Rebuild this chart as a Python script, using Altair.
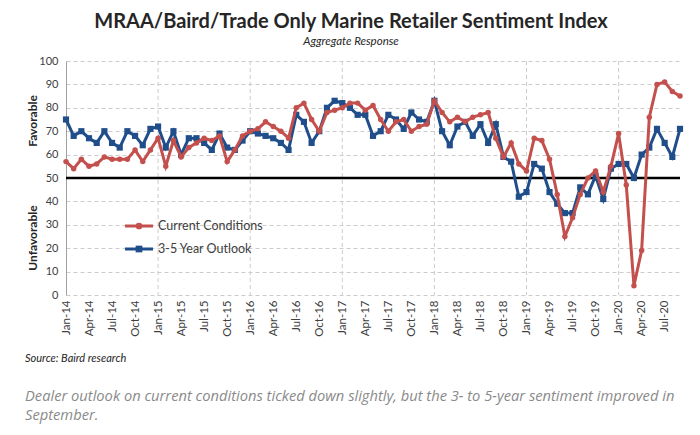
import json
import altair as alt
import pandas as pd

title_text = "MRAA/Baird/Trade Only Marine Retailer Sentiment Index"
subtitle_text = "Aggregate Response"
source_text = "Source: Baird research"
caption_lines = [
    "Dealer outlook on current conditions ticked down slightly, but the 3- to 5-year sentiment improved in",
    "September.",
]
series_names = ["Current Conditions", "3-5 Year Outlook"]

# monthly values, Jan-14 .. Sep-20
current = [57, 54, 58, 55, 56, 59, 58, 58, 58, 62, 57, 62,
           67, 55, 66, 59, 63, 65, 67, 66, 68, 57, 62, 68,
           70, 71, 74, 72, 70, 67, 80, 82, 75, 70, 78, 79,
           80, 82, 82, 79, 81, 75, 70, 74, 75, 70, 72, 73,
           83, 78, 74, 76, 74, 76, 77, 78, 67, 59, 65, 56,
           53, 67, 66, 58, 43, 25, 33, 43, 50, 53, 44, 55,
           69, 47, 4, 19, 76, 90, 91, 87, 85]
outlook = [75, 68, 70, 67, 65, 70, 65, 63, 70, 68, 64, 71,
           72, 63, 70, 60, 67, 67, 65, 62, 69, 63, 62, 66,
           70, 69, 68, 67, 65, 62, 77, 74, 65, 70, 80, 83,
           82, 80, 77, 77, 68, 70, 77, 75, 71, 78, 75, 74,
           83, 70, 64, 72, 74, 68, 73, 65, 73, 59, 57, 42,
           44, 56, 54, 44, 39, 35, 35, 46, 43, 51, 41, 54,
           56, 56, 50, 60, 63, 71, 65, 59, 71]
tick_labels = ["Jan-14", "Apr-14", "Jul-14", "Oct-14",
               "Jan-15", "Apr-15", "Jul-15", "Oct-15",
               "Jan-16", "Apr-16", "Jul-16", "Oct-16",
               "Jan-17", "Apr-17", "Jul-17", "Oct-17",
               "Jan-18", "Apr-18", "Jul-18", "Oct-18",
               "Jan-19", "Apr-19", "Jul-19", "Oct-19",
               "Jan-20", "Apr-20", "Jul-20"]
year_starts = [12, 24, 36, 48, 60, 72]
threshold = [50]

RED = "#c4504d"
BLUE = "#1f4e8a"
FONT = "Lato"

n = len(current)
df_cur = pd.DataFrame({"m": list(range(n)), "v": current})
df_out = pd.DataFrame({"m": list(range(n)), "v": outlook})

W, H = 614, 234
xscale = alt.Scale(domain=[0, n - 1], nice=False, zero=False)
yscale = alt.Scale(domain=[0, 100], nice=False)

label_expr = json.dumps(tick_labels) + "[round(datum.value/3)]"

xaxis = alt.Axis(values=list(range(0, 3 * len(tick_labels), 3)), labelExpr=label_expr,
                 labelAngle=270, grid=False, domain=False, ticks=False,
                 labelFont=FONT, labelFontSize=11.5, labelColor="#404040",
                 labelPadding=5, title=None, labelOverlap=False)
yaxis = alt.Axis(values=list(range(0, 101, 10)), grid=True, gridDash=[4, 3],
                 gridColor="#cccccc", domain=True, domainColor="#a0a0a0",
                 ticks=False, labelFont=FONT, labelFontSize=11, labelColor="#404040",
                 labelPadding=8, title=None)


def X():
    return alt.X("m:Q", scale=xscale, axis=xaxis)


def Y():
    return alt.Y("v:Q", scale=yscale, axis=yaxis)


base_cur = alt.Chart(df_cur)
base_out = alt.Chart(df_out)

# the first layer carries both axes
axes_layer = base_out.mark_line(opacity=0).encode(x=X(), y=Y())

vgrid = alt.Chart(pd.DataFrame({"m": year_starts})).mark_rule(
    color="#cccccc", strokeDash=[4, 3], strokeWidth=1
).encode(x=X())

thr = alt.Chart(pd.DataFrame({"v": threshold})).mark_rule(
    color="black", strokeWidth=2.5
).encode(y=Y())

out_line = base_out.mark_line(color=BLUE, strokeWidth=3).encode(x=X(), y=Y())
out_pts = base_out.mark_point(shape="square", filled=True, color=BLUE,
                              size=38, opacity=1).encode(x=X(), y=Y())
cur_line = base_cur.mark_line(color=RED, strokeWidth=3).encode(x=X(), y=Y())
cur_pts = base_cur.mark_point(shape="circle", filled=True, color=RED,
                              size=30, opacity=1).encode(x=X(), y=Y())


def one(text):
    return alt.Chart(pd.DataFrame({"t": [text]}))


layers = [axes_layer, vgrid, thr, out_line, out_pts, cur_line, cur_pts]

# legend (manual)
for name, col, shape, ly in [(series_names[0], RED, "circle", 165),
                             (series_names[1], BLUE, "square", 188)]:
    layers.append(one(name).mark_rule(color=col, strokeWidth=3).encode(
        x=alt.value(59), x2=alt.value(87), y=alt.value(ly)))
    layers.append(one(name).mark_point(shape=shape, filled=True, color=col,
                                       size=45, opacity=1).encode(
        x=alt.value(73), y=alt.value(ly)))
    layers.append(one(name).mark_text(align="left", baseline="middle", font=FONT,
                                      fontSize=12.5, color="#404040").encode(
        x=alt.value(92), y=alt.value(ly), text="t:N"))

# side labels
layers.append(one("Favorable").mark_text(angle=270, align="center", baseline="middle",
                                         font=FONT, fontSize=12, fontWeight="bold",
                                         color="#262626").encode(
    x=alt.value(-33), y=alt.value(60), text="t:N"))
layers.append(one("Unfavorable").mark_text(angle=270, align="center", baseline="middle",
                                           font=FONT, fontSize=12, fontWeight="bold",
                                           color="#262626").encode(
    x=alt.value(-33), y=alt.value(177), text="t:N"))

# titles
layers.append(one(title_text).mark_text(align="center", baseline="middle", font=FONT,
                                        fontSize=20, fontWeight="bold",
                                        color="#262626").encode(
    x=alt.value(285), y=alt.value(-39), text="t:N"))
layers.append(one(subtitle_text).mark_text(align="center", baseline="middle", font=FONT,
                                           fontSize=11.5, fontStyle="italic",
                                           color="#262626").encode(
    x=alt.value(285), y=alt.value(-19), text="t:N"))

# source and caption
layers.append(one(source_text).mark_text(align="left", baseline="middle", font=FONT,
                                         fontSize=11, fontStyle="italic",
                                         color="#262626").encode(
    x=alt.value(-41), y=alt.value(298), text="t:N"))
for i, line in enumerate(caption_lines):
    layers.append(one(line).mark_text(align="left", baseline="middle", font="Open Sans",
                                      fontSize=14.7, fontStyle="italic",
                                      color="#8a8a8a").encode(
        x=alt.value(-41), y=alt.value(336 + 19 * i), text="t:N"))

chart = alt.layer(*layers).properties(
    width=W, height=H,
    autosize=alt.AutoSizeParams(type="none"),
    padding={"left": 58, "top": 53, "right": 12, "bottom": 132},
    background="white",
).configure_view(stroke=None)

chart.save("out.html", embed_options={"renderer": "svg", "actions": False})
